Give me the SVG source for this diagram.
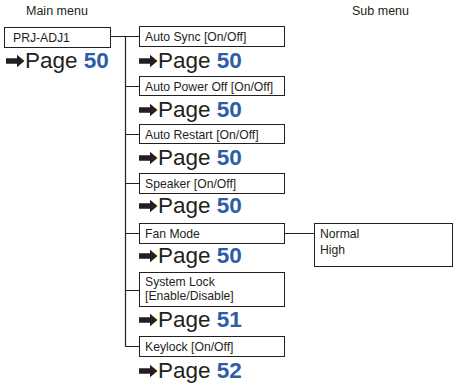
<svg xmlns="http://www.w3.org/2000/svg" width="453" height="384" viewBox="0 0 453 384">
<style>
text{font-family:"Liberation Sans",Arial,sans-serif;fill:#231f20}
.h{font-size:12.5px}
.b{font-size:12.2px}
.p{font-size:22.5px}
.n{fill:#2d5da8;font-weight:bold}
.box{fill:#fff;stroke:#231f20;stroke-width:1}
.ln{fill:none;stroke:#231f20;stroke-width:1.2}
.ar{fill:#231f20}
</style>
<defs>
<polygon id="arr" points="0,-2.7 11,-2.7 11,-6.3 18.5,0 11,6.3 11,2.7 0,2.7"/>
</defs>
<text class="h" x="26" y="15">Main menu</text>
<text class="h" x="352" y="15">Sub menu</text>
<g id="connectors">
<path class="ln" d="M110.5,36.5 H139.5 M125.5,36 V346.5 H139.5 M125.5,86.5 H139.5 M125.5,134.5 H139.5 M125.5,183.5 H139.5 M125.5,233.5 H139.5 M125.5,290.5 H139.5 M284.5,233.5 H314.5"/>
</g>
<g id="main">
<rect class="box" x="4.5" y="27.5" width="106" height="20"/>
<text class="b" x="13" y="42">PRJ-ADJ1</text>
<use href="#arr" class="ar" x="6" y="61"/>
<text class="p" x="25" y="68">Page <tspan class="n">50</tspan></text>
</g>
<g id="auto-sync">
<rect class="box" x="139.5" y="26.5" width="145" height="20"/>
<text class="b" x="145" y="41">Auto Sync [On/Off]</text>
<use href="#arr" class="ar" x="139" y="61"/>
<text class="p" x="158" y="68">Page <tspan class="n">50</tspan></text>
</g>
<g id="auto-power-off">
<rect class="box" x="139.5" y="76.5" width="145" height="19"/>
<text class="b" x="145" y="90.5">Auto Power Off [On/Off]</text>
<use href="#arr" class="ar" x="139" y="110"/>
<text class="p" x="158" y="117">Page <tspan class="n">50</tspan></text>
</g>
<g id="auto-restart">
<rect class="box" x="139.5" y="124.5" width="145" height="19"/>
<text class="b" x="145" y="138.5">Auto Restart [On/Off]</text>
<use href="#arr" class="ar" x="139" y="158"/>
<text class="p" x="158" y="165">Page <tspan class="n">50</tspan></text>
</g>
<g id="speaker">
<rect class="box" x="139.5" y="173.5" width="145" height="20"/>
<text class="b" x="145" y="188">Speaker [On/Off]</text>
<use href="#arr" class="ar" x="139" y="206"/>
<text class="p" x="158" y="213">Page <tspan class="n">50</tspan></text>
</g>
<g id="fan-mode">
<rect class="box" x="139.5" y="223.5" width="145" height="20"/>
<text class="b" x="145" y="238">Fan Mode</text>
<use href="#arr" class="ar" x="139" y="256"/>
<text class="p" x="158" y="263">Page <tspan class="n">50</tspan></text>
</g>
<g id="fan-sub">
<rect class="box" x="314.5" y="223.5" width="138" height="43"/>
<text class="b" x="320" y="238">Normal</text>
<text class="b" x="320" y="254">High</text>
</g>
<g id="system-lock">
<rect class="box" x="139.5" y="272.5" width="145" height="34"/>
<text class="b" x="145" y="286">System Lock</text>
<text class="b" x="145" y="300">[Enable/Disable]</text>
<use href="#arr" class="ar" x="139" y="320"/>
<text class="p" x="158" y="327">Page <tspan class="n">51</tspan></text>
</g>
<g id="keylock">
<rect class="box" x="139.5" y="336.5" width="145" height="20"/>
<text class="b" x="145" y="351">Keylock [On/Off]</text>
<use href="#arr" class="ar" x="139" y="371"/>
<text class="p" x="158" y="378">Page <tspan class="n">52</tspan></text>
</g>
</svg>
